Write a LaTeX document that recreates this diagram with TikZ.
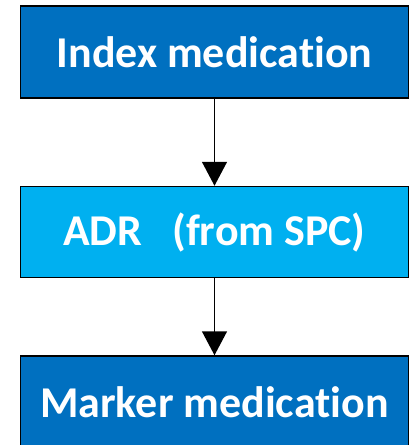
\documentclass[tikz,border=0pt]{standalone}
\usepackage{fontspec}
\setmainfont{Carlito}[Ligatures=NoCommon]
\usetikzlibrary{arrows.meta,positioning}
\definecolor{indexblue}{RGB}{0,112,192}
\definecolor{adrblue}{RGB}{0,176,240}

\begin{document}
\begin{tikzpicture}[>={Triangle[width=25pt,length=24pt]},x=1pt,y=1pt,
  flowbox/.style={draw=black, line width=1.5pt, minimum width=388pt,
    minimum height=92pt, inner sep=0pt, text=white,
    font=\fontsize{44}{52}\selectfont\bfseries}]

  \useasboundingbox (0,0) rectangle (410,-445);
  \clip (0,0) rectangle (410,-445);

  %-------------------- boxes --------------------
  \node[flowbox, fill=indexblue] (index) at (214.5,-52) {Index medication};
  \node[flowbox, fill=adrblue, minimum height=91pt, below=87pt of index] (adr)
    {ADR\ \ \ (from SPC)};
  \node[flowbox, fill=indexblue, below=77pt of adr] (marker)
    {Marker medication};

  %-------------------- arrows --------------------
  \draw[->, line width=1.5pt] (index) -- (adr);
  \draw[->, line width=1.5pt] (adr) -- (marker);

\end{tikzpicture}
\end{document}
